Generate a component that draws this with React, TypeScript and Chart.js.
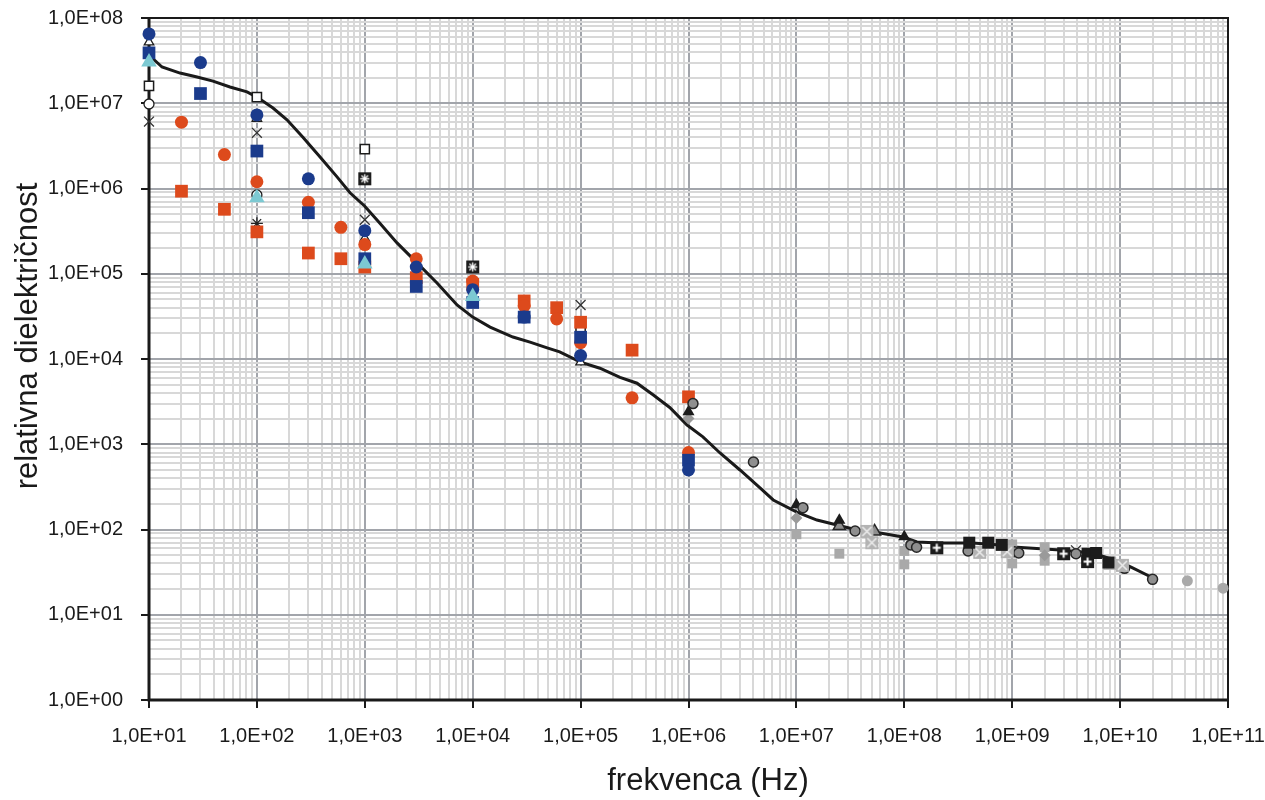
import React, { useEffect, useRef } from 'react';
import { Chart, registerables } from 'chart.js';

Chart.register(...registerables);

// ---- tick labels ----
const xDecadeLabels = ['1,0E+01', '1,0E+02', '1,0E+03', '1,0E+04', '1,0E+05', '1,0E+06', '1,0E+07', '1,0E+08', '1,0E+09', '1,0E+10', '1,0E+11'];
const yDecadeLabels = ['1,0E+00', '1,0E+01', '1,0E+02', '1,0E+03', '1,0E+04', '1,0E+05', '1,0E+06', '1,0E+07', '1,0E+08'];
const xTitle = 'frekvenca (Hz)';
const yTitle = 'relativna dielektričnost';

// ---- fitted curve ----
const curveX = [10, 13.2, 19.4, 27.9, 39.2, 56.3, 81, 100, 141, 190, 267, 385, 553, 729, 1000, 1380, 1990, 3050, 4670, 7160, 1.0e4, 1.45e4, 2.36e4, 3.4e4, 4.9e4, 6.4e4, 1.0e5, 1.51e5, 2.32e5, 3.33e5, 4.69e5, 6.7e5, 9.7e5, 1.36e6, 1.96e6, 3.0e6, 4.6e6, 6.1e6, 1.01e7, 1.55e7, 2.38e7, 3.65e7, 5.96e7, 9.7e7, 1.31e8, 2.14e8, 4.3e8, 7.7e8, 1.02e9, 2.78e9, 5.6e9, 1.0e10, 1.32e10, 2.02e10];
const curveY = [3.68e7, 2.66e7, 2.26e7, 2.03e7, 1.82e7, 1.55e7, 1.36e7, 1.18e7, 8.8e6, 6.4e6, 4.0e6, 2.34e6, 1.37e6, 8.9e5, 6.2e5, 3.9e5, 2.3e5, 1.34e5, 7.8e4, 4.3e4, 3.1e4, 2.37e4, 1.81e4, 1.58e4, 1.35e4, 1.21e4, 9.2e3, 7.8e3, 6.1e3, 5.2e3, 3.8e3, 2.7e3, 1.68e3, 1.22e3, 790, 499, 307, 222, 160, 129, 113, 98.6, 91, 81.7, 71.3, 69.5, 69.5, 65.8, 62.4, 57.5, 53, 41.6, 35.3, 27];

// ---- measured series ----
const blueCircleX = [10, 30, 100, 300, 1000, 3000, 1e4, 3e4, 1e5, 1e6];
const blueCircleY = [6.5e7, 3.0e7, 7.3e6, 1.3e6, 3.2e5, 1.2e5, 6.5e4, 3.1e4, 1.1e4, 500];

const blueSquareX = [10, 30, 100, 300, 1000, 3000, 1e4, 3e4, 1e5, 1e6];
const blueSquareY = [3.9e7, 1.3e7, 2.75e6, 5.2e5, 1.5e5, 7.1e4, 4.6e4, 3.1e4, 1.8e4, 650];

const orangeCircleX = [20, 50, 100, 300, 600, 1000, 3000, 1e4, 3e4, 6e4, 1e5, 3e5, 1e6];
const orangeCircleY = [6.0e6, 2.5e6, 1.2e6, 6.9e5, 3.5e5, 2.2e5, 1.5e5, 8.2e4, 4.2e4, 2.95e4, 1.55e4, 3.5e3, 800];

const orangeSquareX = [20, 50, 100, 300, 600, 1000, 3000, 1e4, 3e4, 6e4, 1e5, 3e5, 1e6];
const orangeSquareY = [9.3e5, 5.7e5, 3.1e5, 1.75e5, 1.5e5, 1.2e5, 9.0e4, 7.5e4, 4.8e4, 4.0e4, 2.7e4, 1.27e4, 3.6e3];

const cyanTriangleX = [10, 100, 1000, 1e4];
const cyanTriangleY = [3.05e7, 7.8e5, 1.3e5, 5.4e4];

const openSquareX = [10, 100, 1000, 1e5, 1e6];
const openSquareY = [1.6e7, 1.18e7, 2.9e6, 2.2e4, 700];

const crossX = [10, 100, 1000, 1e5, 3.9e9];
const crossY = [6.1e6, 4.5e6, 4.3e5, 4.3e4, 57];

const openTriangleX = [10, 100, 1000, 1e5];
const openTriangleY = [5.2e7, 6.6e6, 2.6e5, 9.2e3];

const openCircleX = [10, 100];
const openCircleY = [9.8e6, 8.4e5];

const asteriskX = [100];
const asteriskY = [3.9e5];

const starSquareX = [1000, 1e4];
const starSquareY = [1.3e6, 1.2e5];

const greyRingX = [1.1e6, 4e6, 1.15e7, 3.5e7, 1.15e8, 1.3e8, 3.9e8, 1.05e9, 1.15e9, 3.9e9, 1.1e10, 2e10];
const greyRingY = [3.0e3, 620, 180, 96, 66, 62, 56, 55, 53, 52, 35, 26];

const lightCircleX = [4.2e10, 9e10];
const lightCircleY = [25, 20.5];

const lightSquareX = [1e7, 2.5e7, 1e8, 1e8, 1e9, 1e9, 2e9, 2e9];
const lightSquareY = [88, 52, 56, 39, 67, 40, 62, 43];

const blackTriangleX = [1e6, 1e7, 2.5e7, 1e8];
const blackTriangleY = [2.4e3, 195, 128, 82];

const greyTriangleX = [2.5e7, 5.3e7];
const greyTriangleY = [110, 95];

const diamondX = [1e6, 1e7, 2e9];
const diamondY = [2.0e3, 136, 50];

const blackSquareX = [4e8, 6e8, 8e8, 5e9, 6e9, 7.8e9];
const blackSquareY = [70, 70, 66, 52, 53, 41];

const plusSquareX = [2e8, 3e9, 5e9];
const plusSquareY = [61, 52, 42];

const xSquareX = [4.5e7, 5e7, 5e8, 9e8, 8e9, 1.05e10];
const xSquareY = [95, 70, 54, 55, 40, 38];

// ---- helpers ----
const pts = (xs: number[], ys: number[]) => xs.map((x, i) => ({ x, y: ys[i] }));
const isPow10 = (v: number) => {
  const l = Math.log10(v);
  return Math.abs(l - Math.round(l)) < 1e-9;
};
const logTicks = (fromExp: number, toExp: number) => {
  const out: number[] = [];
  for (let e = fromExp; e < toExp; e++) {
    for (let s = 1; s <= 9; s++) out.push(s * Math.pow(10, e));
  }
  out.push(Math.pow(10, toExp));
  return out;
};

function makeMarker(kind: string): HTMLCanvasElement {
  const c = document.createElement('canvas');
  const size = 15;
  c.width = size;
  c.height = size;
  const g = c.getContext('2d')!;
  const s = 13;
  const o = (size - s) / 2;
  if (kind === 'star') {
    g.fillStyle = '#1c1c1c';
    g.fillRect(o, o, s, s);
    g.strokeStyle = '#ffffff';
    g.lineWidth = 1.3;
    const cx = size / 2, cy = size / 2, r = 4.6;
    for (let k = 0; k < 4; k++) {
      const a = (k * Math.PI) / 4;
      g.beginPath();
      g.moveTo(cx - r * Math.cos(a), cy - r * Math.sin(a));
      g.lineTo(cx + r * Math.cos(a), cy + r * Math.sin(a));
      g.stroke();
    }
  } else if (kind === 'plus') {
    g.fillStyle = '#1c1c1c';
    g.fillRect(o, o, s, s);
    g.strokeStyle = '#ffffff';
    g.lineWidth = 2;
    g.beginPath();
    g.moveTo(size / 2, o + 2.5);
    g.lineTo(size / 2, o + s - 2.5);
    g.moveTo(o + 2.5, size / 2);
    g.lineTo(o + s - 2.5, size / 2);
    g.stroke();
  } else if (kind === 'xsq') {
    g.fillStyle = '#b3b3b3';
    g.fillRect(o, o, s, s);
    g.strokeStyle = '#ececec';
    g.lineWidth = 1.6;
    g.beginPath();
    g.moveTo(o + 2, o + 2);
    g.lineTo(o + s - 2, o + s - 2);
    g.moveTo(o + s - 2, o + 2);
    g.lineTo(o + 2, o + s - 2);
    g.stroke();
  }
  return c;
}

export default function App() {
  const ref = useRef<HTMLCanvasElement | null>(null);

  useEffect(() => {
    if (!ref.current) return;
    const starImg = makeMarker('star');
    const plusImg = makeMarker('plus');
    const xsqImg = makeMarker('xsq');

    const navy = '#1b3b8c';
    const orange = '#dd4a1c';
    const cyan = '#7cc9d2';

    const framePlugin = {
      id: 'frame',
      beforeDatasetsDraw(chart: any) {
        const { ctx, chartArea: a } = chart;
        ctx.save();
        ctx.strokeStyle = '#1a1a1a';
        ctx.lineWidth = 2;
        ctx.strokeRect(a.left, a.top, a.right - a.left, a.bottom - a.top);
        ctx.lineWidth = 3;
        ctx.beginPath();
        ctx.moveTo(a.left, a.top - 1);
        ctx.lineTo(a.left, a.bottom);
        ctx.lineTo(a.right + 1, a.bottom);
        ctx.stroke();
        ctx.restore();
      },
      afterDraw(chart: any) {
        const { ctx } = chart;
        ctx.save();
        ctx.fillStyle = '#1a1a1a';
        ctx.font = '31px "Liberation Sans", Arial, sans-serif';
        ctx.textAlign = 'center';
        ctx.textBaseline = 'middle';
        ctx.fillText(xTitle, 708, 781);
        ctx.translate(28, 336);
        ctx.rotate(-Math.PI / 2);
        ctx.fillText(yTitle, 0, 0);
        ctx.restore();
      },
    };

    const sc = (label: string, xs: number[], ys: number[], extra: any) => ({
      type: 'scatter',
      label,
      data: pts(xs, ys),
      clip: false,
      pointBorderWidth: 0,
      ...extra,
    });

    const datasets: any[] = [
      sc('starSquare', starSquareX, starSquareY, { pointStyle: starImg }),
      sc('plusSquare', plusSquareX, plusSquareY, { pointStyle: plusImg }),
      sc('blackSquare', blackSquareX, blackSquareY, { pointStyle: 'rect', pointRadius: 8.5, backgroundColor: '#1c1c1c', borderColor: '#1c1c1c' }),
      sc('xSquare', xSquareX, xSquareY, { pointStyle: xsqImg }),
      sc('greyRing', greyRingX, greyRingY, { pointStyle: 'circle', pointRadius: 5, backgroundColor: '#8f8f8f', borderColor: '#262626', pointBorderWidth: 1.5 }),
      sc('lightCircle', lightCircleX, lightCircleY, { pointStyle: 'circle', pointRadius: 5.5, backgroundColor: '#a9a9a9', borderColor: '#a9a9a9' }),
      sc('blackTriangle', blackTriangleX, blackTriangleY, { pointStyle: 'triangle', pointRadius: 7, backgroundColor: '#1c1c1c', borderColor: '#1c1c1c' }),
      sc('greyTriangle', greyTriangleX, greyTriangleY, { pointStyle: 'triangle', pointRadius: 7, backgroundColor: '#8f8f8f', borderColor: '#262626', pointBorderWidth: 1.5 }),
      sc('diamond', diamondX, diamondY, { pointStyle: 'rectRot', pointRadius: 6, backgroundColor: '#9a9a9a', borderColor: '#9a9a9a' }),
      sc('lightSquare', lightSquareX, lightSquareY, { pointStyle: 'rect', pointRadius: 7, backgroundColor: '#a9a9a9', borderColor: '#a9a9a9' }),
      sc('cyanTriangle', cyanTriangleX, cyanTriangleY, { pointStyle: 'triangle', pointRadius: 9, backgroundColor: cyan, borderColor: cyan }),
      sc('blueCircle', blueCircleX, blueCircleY, { pointStyle: 'circle', pointRadius: 6.5, backgroundColor: navy, borderColor: navy }),
      sc('blueSquare', blueSquareX, blueSquareY, { pointStyle: 'rect', pointRadius: 9, backgroundColor: navy, borderColor: navy }),
      sc('orangeCircle', orangeCircleX, orangeCircleY, { pointStyle: 'circle', pointRadius: 6.5, backgroundColor: orange, borderColor: orange }),
      sc('orangeSquare', orangeSquareX, orangeSquareY, { pointStyle: 'rect', pointRadius: 9, backgroundColor: orange, borderColor: orange }),
      sc('openSquare', openSquareX, openSquareY, { pointStyle: 'rect', pointRadius: 6.5, backgroundColor: '#ffffff', borderColor: '#1c1c1c', pointBorderWidth: 1.5 }),
      sc('cross', crossX, crossY, { pointStyle: 'crossRot', pointRadius: 7, backgroundColor: '#333', borderColor: '#333', pointBorderWidth: 1.3 }),
      sc('asterisk', asteriskX, asteriskY, { pointStyle: 'star', pointRadius: 6, backgroundColor: '#222', borderColor: '#222', pointBorderWidth: 1.3 }),
      sc('openTriangle', openTriangleX, openTriangleY, { pointStyle: 'triangle', pointRadius: 5.5, backgroundColor: '#ffffff', borderColor: '#1c1c1c', pointBorderWidth: 1.3 }),
      sc('openCircle', openCircleX, openCircleY, { pointStyle: 'circle', pointRadius: 5, backgroundColor: '#ffffff', borderColor: '#1c1c1c', pointBorderWidth: 1.3 }),
      {
        type: 'line',
        label: 'curve',
        data: pts(curveX, curveY),
        showLine: true,
        borderColor: '#1a1a1a',
        borderWidth: 3,
        pointRadius: 0,
        tension: 0,
        fill: false,
        clip: false,
      },
    ];

    const majorGrid = '#a2a5ab';
    const minorGrid = '#d8d8d8';

    const chart = new Chart(ref.current, {
      type: 'scatter',
      data: { datasets },
      plugins: [framePlugin],
      options: {
        animation: false,
        responsive: false,
        devicePixelRatio: 1,
        layout: { padding: { left: 0, top: 18, right: 37, bottom: 0 } },
        plugins: { legend: { display: false }, tooltip: { enabled: false } },
        scales: {
          x: {
            type: 'logarithmic',
            min: 10,
            max: 1e11,
            afterBuildTicks: (axis: any) => {
              axis.ticks = logTicks(1, 11).map((v) => ({ value: v }));
            },
            afterFit: (axis: any) => {
              axis.height = 100;
              axis.paddingLeft = 0;
              axis.paddingRight = 0;
            },
            border: { display: false },
            grid: {
              color: (c: any) => (c.tick && isPow10(c.tick.value) ? majorGrid : minorGrid),
              lineWidth: 2,
              drawTicks: true,
              tickLength: 8,
              tickWidth: 2,
              tickColor: (c: any) => (c.tick && isPow10(c.tick.value) ? '#1a1a1a' : 'rgba(0,0,0,0)'),
            },
            ticks: {
              autoSkip: false,
              maxRotation: 0,
              minRotation: 0,
              padding: 16,
              color: '#1a1a1a',
              font: { family: '"Liberation Sans", Arial, sans-serif', size: 20 },
              callback: (v: any) => (isPow10(Number(v)) ? xDecadeLabels[Math.round(Math.log10(Number(v))) - 1] : ''),
            },
          },
          y: {
            type: 'logarithmic',
            min: 1,
            max: 1e8,
            afterBuildTicks: (axis: any) => {
              axis.ticks = logTicks(0, 8).map((v) => ({ value: v }));
            },
            afterFit: (axis: any) => {
              axis.width = 149;
              axis.paddingTop = 0;
              axis.paddingBottom = 0;
            },
            border: { display: false },
            grid: {
              color: (c: any) => (c.tick && isPow10(c.tick.value) ? majorGrid : minorGrid),
              lineWidth: 2,
              drawTicks: true,
              tickLength: 8,
              tickWidth: 2,
              tickColor: (c: any) => (c.tick && isPow10(c.tick.value) ? '#1a1a1a' : 'rgba(0,0,0,0)'),
            },
            ticks: {
              autoSkip: false,
              padding: 18,
              color: '#1a1a1a',
              font: { family: '"Liberation Sans", Arial, sans-serif', size: 20 },
              callback: (v: any) => (isPow10(Number(v)) ? yDecadeLabels[Math.round(Math.log10(Number(v)))] : ''),
            },
          },
        },
      } as any,
    });

    return () => chart.destroy();
  }, []);

  return (
    <div style={{ position: 'absolute', left: 0, top: 0, width: 1265, height: 800, background: '#ffffff' }}>
      <canvas ref={ref} width={1265} height={800} style={{ display: 'block', width: 1265, height: 800 }} />
    </div>
  );
}
